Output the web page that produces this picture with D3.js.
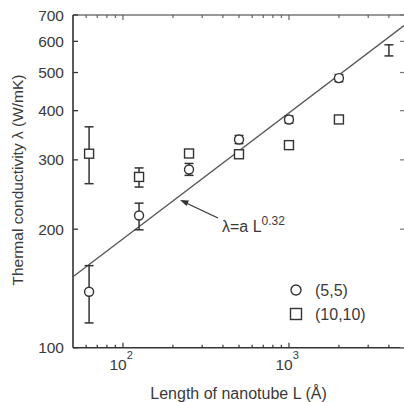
<!DOCTYPE html>
<html>
<head>
<meta charset="utf-8">
<script src="https://cdn.jsdelivr.net/npm/d3@7"></script>
<style>
  html, body { margin: 0; padding: 0; background: #fff; }
  svg { display: block; font-family: "Liberation Sans", Arial, sans-serif; }
</style>
</head>
<body>
<svg id="chart" width="404" height="402"></svg>
<script>
// nanotube lengths (Angstrom)
const lengths = [62.5, 125, 250, 500, 1000, 2000];
// (5,5) tube: value, upper, lower
const tube55 = [138.7, 216.7, 283.5, 338, 380, 484];
const tube55Hi = [161.6, 232.9, 293.8, 346, 388, 494];
const tube55Lo = [115.6, 199.3, 274, 330, 372, 474];
// (10,10) tube
const tube1010 = [311, 271.5, 311.4, 310, 327, 380];
const tube1010Hi = [364, 286.2, 318, 316, 333, 386];
const tube1010Lo = [261, 255.9, 305, 304, 321, 374];
// lone error bar at 4000 A
const extraL = [4000];
const extraHi = [588];
const extraLo = [551];
// fit  lambda = a L^0.32
const fitA = 43.3;
const fitExp = 0.32;
const fitRange = [50, 5000];

const yTicks = [100, 200, 300, 400, 500, 600, 700];
const xMajor = [100, 1000];
const xMinor = [60, 70, 80, 90, 200, 300, 400, 500, 600, 700, 800, 900, 2000, 3000, 4000];

const svg = d3.select('#chart');
const margin = { top: 15, right: -1, bottom: 55, left: 73 };
const W = 404, H = 402;
const x = d3.scaleLog().domain([50, 5000]).range([margin.left, W - margin.right]);
const y = d3.scaleLog().domain([100, 700]).range([H - margin.bottom + 0.7, margin.top]);

const ink = '#333';
const txt = '#3a3a3a';

// frame
svg.append('line').attr('x1', x(50)).attr('x2', x(5000)).attr('y1', y(100)).attr('y2', y(100))
    .attr('stroke', ink).attr('stroke-width', 1.6);
svg.append('line').attr('x1', x(50)).attr('x2', x(5000)).attr('y1', y(700)).attr('y2', y(700))
    .attr('stroke', '#777').attr('stroke-width', 1.3);
svg.append('line').attr('x1', x(50)).attr('x2', x(50)).attr('y1', y(100)).attr('y2', y(700))
    .attr('stroke', ink).attr('stroke-width', 1.6);

// x ticks, bottom and top, pointing inward
const xt = xMajor.map(v => ({ v, len: 5 })).concat(xMinor.map(v => ({ v, len: 3 })));
svg.selectAll('.xtb').data(xt).enter().append('line')
    .attr('x1', d => x(d.v)).attr('x2', d => x(d.v))
    .attr('y1', y(100)).attr('y2', d => y(100) - d.len)
    .attr('stroke', ink).attr('stroke-width', 1.2);
svg.selectAll('.xtt').data(xt).enter().append('line')
    .attr('x1', d => x(d.v)).attr('x2', d => x(d.v))
    .attr('y1', y(700)).attr('y2', d => y(700) + d.len)
    .attr('stroke', '#555').attr('stroke-width', 1.1);

// y ticks left and right
svg.selectAll('.ytl').data(yTicks).enter().append('line')
    .attr('x1', x(50)).attr('x2', x(50) + 5)
    .attr('y1', d => y(d)).attr('y2', d => y(d))
    .attr('stroke', ink).attr('stroke-width', 1.3);
svg.selectAll('.ytr').data(yTicks).enter().append('line')
    .attr('x1', x(5000)).attr('x2', x(5000) - 5)
    .attr('y1', d => y(d)).attr('y2', d => y(d))
    .attr('stroke', '#777').attr('stroke-width', 1.2);

// y tick labels
svg.selectAll('.ylab').data(yTicks).enter().append('text')
    .attr('x', 64).attr('y', d => y(d) + 5.5)
    .attr('text-anchor', 'end').attr('font-size', 15.5).attr('fill', txt)
    .text(d => d);

// x tick labels 10^n
xMajor.forEach(v => {
    const t = svg.append('text').attr('x', x(v) - 13.5).attr('y', 370)
        .attr('font-size', 15.5).attr('fill', txt);
    t.append('tspan').text('10');
    t.append('tspan').attr('dy', -11).attr('font-size', 11).text(Math.round(Math.log10(v)));
});

// axis titles
svg.append('text').attr('x', 238.5).attr('y', 399).attr('text-anchor', 'middle')
    .attr('font-size', 16).attr('fill', txt).text('Length of nanotube L (Å)');
svg.append('text').attr('transform', 'translate(23,180) rotate(-90)').attr('text-anchor', 'middle')
    .attr('font-size', 15.5).attr('fill', txt).text('Thermal conductivity λ (W/mK)');

// fit line
const fitPts = fitRange.map(L => [L, fitA * Math.pow(L, fitExp)]);
svg.append('path')
    .attr('d', d3.line().x(d => x(d[0])).y(d => y(d[1]))(fitPts))
    .attr('stroke', '#555').attr('stroke-width', 1.3).attr('fill', 'none');

// error bars
function errorBars(ls, hi, lo) {
    const g = svg.append('g').attr('stroke', ink).attr('stroke-width', 1.5);
    ls.forEach((L, i) => {
        const cx = x(L);
        g.append('line').attr('x1', cx).attr('x2', cx).attr('y1', y(hi[i])).attr('y2', y(lo[i]));
        g.append('line').attr('x1', cx - 4.5).attr('x2', cx + 4.5).attr('y1', y(hi[i])).attr('y2', y(hi[i]));
        g.append('line').attr('x1', cx - 4.5).attr('x2', cx + 4.5).attr('y1', y(lo[i])).attr('y2', y(lo[i]));
    });
}
errorBars(lengths, tube55Hi, tube55Lo);
errorBars(lengths, tube1010Hi, tube1010Lo);
errorBars(extraL, extraHi, extraLo);

// markers
svg.selectAll('.c55').data(lengths).enter().append('circle')
    .attr('cx', d => x(d)).attr('cy', (d, i) => y(tube55[i])).attr('r', 4.5)
    .attr('fill', '#fff').attr('stroke', ink).attr('stroke-width', 1.4);
svg.selectAll('.s1010').data(lengths).enter().append('rect')
    .attr('x', d => x(d) - 4.5).attr('y', (d, i) => y(tube1010[i]) - 4.5)
    .attr('width', 9).attr('height', 9)
    .attr('fill', '#fff').attr('stroke', ink).attr('stroke-width', 1.4);

// annotation
svg.append('line').attr('x1', 218).attr('y1', 218).attr('x2', 184).attr('y2', 202)
    .attr('stroke', ink).attr('stroke-width', 1.2);
svg.append('path').attr('d', 'M180,200 L189,200.5 L186.5,206 Z').attr('fill', ink);
const ann = svg.append('text').attr('x', 222).attr('y', 232).attr('font-size', 16).attr('fill', txt);
ann.append('tspan').text('λ=a L');
ann.append('tspan').attr('dy', -7).attr('font-size', 12).text('0.32');

// legend
svg.append('circle').attr('cx', 296).attr('cy', 290).attr('r', 5)
    .attr('fill', '#fff').attr('stroke', ink).attr('stroke-width', 1.4);
svg.append('rect').attr('x', 290.5).attr('y', 308.5).attr('width', 11).attr('height', 11)
    .attr('fill', '#fff').attr('stroke', ink).attr('stroke-width', 1.4);
svg.append('text').attr('x', 315).attr('y', 295.5).attr('font-size', 16).attr('fill', txt).text('(5,5)');
svg.append('text').attr('x', 315).attr('y', 319.5).attr('font-size', 16).attr('fill', txt).text('(10,10)');
</script>
</body>
</html>
